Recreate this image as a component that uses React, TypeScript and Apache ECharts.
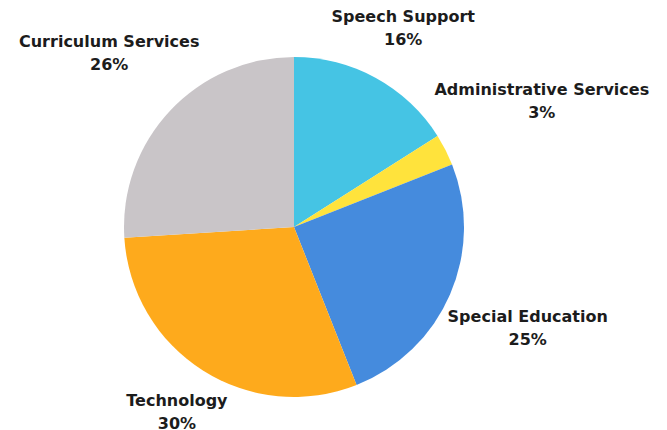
import React, { useEffect, useRef } from "react";
import * as echarts from "echarts";

const categories = [
  "Speech Support",
  "Administrative Services",
  "Special Education",
  "Technology",
  "Curriculum Services",
];
const values = [16, 3, 25, 30, 26];
const colors = ["#45C4E4", "#FFE33C", "#458BDD", "#FEAA1C", "#C9C5C8"];

const CX = 294;
const CY = 227;
const R = 170;
const GAP = 2;

export default function App() {
  const ref = useRef<HTMLDivElement>(null);
  useEffect(() => {
    if (!ref.current) return;
    const chart = echarts.init(ref.current, null, { renderer: "svg" });
    const total = values.reduce((a, b) => a + b, 0);
    const mids: number[] = [];
    let acc = 0;
    values.forEach((v) => {
      mids.push(((acc + v / 2) / total) * Math.PI * 2);
      acc += v;
    });
    chart.setOption({
      animation: false,
      backgroundColor: "#ffffff",
      series: [
        {
          type: "pie",
          center: [CX, CY],
          radius: [0, R],
          startAngle: 90,
          clockwise: true,
          avoidLabelOverlap: false,
          itemStyle: { borderWidth: 0 },
          emphasis: { disabled: true },
          data: categories.map((name, i) => ({
            name,
            value: values[i],
            itemStyle: { color: colors[i] },
          })),
          label: {
            show: true,
            position: "outside",
            formatter: "{b}\n{d}%",
            fontFamily: "DejaVu Sans",
            fontWeight: "bold",
            fontSize: 16,
            lineHeight: 23,
            color: "#1c1c1c",
            align: "center",
          },
          labelLine: { show: false },
          labelLayout: (params: any) => {
            const a = mids[params.dataIndex];
            const ux = Math.sin(a);
            const uy = -Math.cos(a);
            const w = params.labelRect.width / 2;
            const h = params.labelRect.height / 2;
            const d = R + GAP + Math.abs(ux) * w + Math.abs(uy) * h;
            return {
              x: CX + ux * d,
              y: CY + uy * d,
              align: "center",
              verticalAlign: "middle",
            };
          },
        },
      ],
    });
    return () => chart.dispose();
  }, []);
  return (
    <div
      ref={ref}
      style={{ position: "fixed", left: 0, top: 0, width: 667, height: 430 }}
    />
  );
}
